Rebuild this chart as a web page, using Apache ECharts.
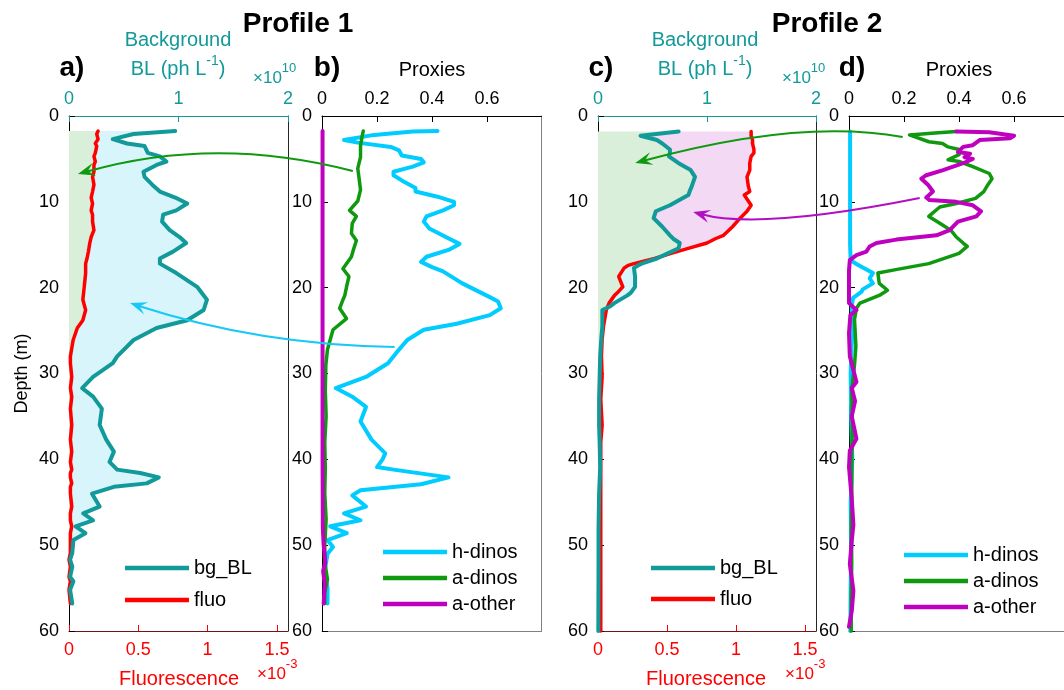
<!DOCTYPE html>
<html>
<head>
<meta charset="utf-8">
<script src="https://cdn.jsdelivr.net/npm/echarts@6/dist/echarts.min.js"></script>
<style>
  html, body { margin: 0; padding: 0; background: #fff; }
  #chart { width: 1064px; height: 690px; }
</style>
</head>
<body>
<div id="chart"></div>
<script>
// ---------- Profile 1: background BL (x1e10 ph/L) and fluorescence (x1e-3), shared depth grid (m)
const depth1 = [1.75, 2.1, 2.7, 3.2, 3.5, 4.3, 4.7, 5.3, 5.7, 6.5, 7.1, 8.0, 8.8, 9.5, 10.2, 11.0, 11.5, 12.3, 13.3, 14.1,
  14.8, 15.8, 16.6, 17.2, 18.3, 19.9, 21.4, 22.6, 23.8, 24.7, 26.1, 28.0, 28.8, 30.4, 31.7, 32.7, 34.1, 36.0, 37.7, 39.1,
  40.3, 41.2, 41.6, 42.1, 42.8, 43.2, 44.0, 45.5, 46.3, 47.1, 47.8, 48.6, 49.4, 50.9, 51.7, 52.5, 53.7, 54.2, 55.2, 56.8];
const bgBL1 = [0.97, 0.59, 0.40, 0.53, 0.69, 0.72, 0.83, 0.89, 0.80, 0.68, 0.69, 0.76, 0.83, 0.97, 1.08, 0.98, 0.86, 0.85, 0.92, 1.01,
  1.07, 0.95, 0.83, 0.83, 0.98, 1.17, 1.26, 1.23, 1.08, 0.80, 0.59, 0.44, 0.40, 0.22, 0.12, 0.22, 0.30, 0.28, 0.34, 0.41,
  0.37, 0.44, 0.65, 0.82, 0.71, 0.41, 0.21, 0.28, 0.13, 0.22, 0.06, 0.15, 0.04, 0.03, 0.01, 0.03, 0.01, 0.04, 0.01, 0.03];
const fluo1 = [0.21, 0.20, 0.21, 0.19, 0.20, 0.19, 0.18, 0.19, 0.18, 0.18, 0.17, 0.18, 0.17, 0.16, 0.17, 0.16, 0.17, 0.17, 0.18, 0.16,
  0.15, 0.14, 0.13, 0.12, 0.12, 0.11, 0.10, 0.12, 0.10, 0.06, 0.03, 0.01, 0.01, 0.02, 0.01, 0.02, 0.01, 0.02, 0.01, 0.02,
  0.01, 0.02, 0.01, 0.01, 0.02, 0.01, 0.01, 0.02, 0.01, 0.01, 0.02, 0.01, 0.01, 0.01, 0.00, 0.01, 0.00, 0.01, 0.00, 0.01];

// ---------- Profile 1: proxy fractions
const hDinosDepth1 = [1.75, 1.8, 2.2, 2.8, 3.1, 3.6, 4.0, 4.6, 5.0, 5.4, 5.9, 6.5, 6.9, 7.7, 8.4, 8.8, 9.4, 10.0, 10.4, 11.0,
  11.7, 12.3, 13.1, 14.1, 14.9, 15.6, 16.4, 17.0, 17.6, 18.1, 19.5, 21.1, 21.6, 22.4, 23.2, 24.2, 24.9, 26.1, 27.6, 28.8,
  30.4, 31.7, 32.7, 33.9, 35.6, 37.7, 39.3, 40.0, 40.9, 41.2, 42.1, 42.9, 43.6, 44.2, 45.5, 46.3, 47.1, 47.8, 48.6, 49.4,
  50.2, 51.0, 53.0, 55.0, 56.8];
const hDinos1 = [0.42, 0.33, 0.19, 0.08, 0.13, 0.25, 0.28, 0.29, 0.36, 0.37, 0.33, 0.26, 0.26, 0.30, 0.34, 0.34, 0.42, 0.48, 0.48, 0.44,
  0.38, 0.37, 0.39, 0.45, 0.50, 0.46, 0.38, 0.36, 0.40, 0.44, 0.51, 0.61, 0.64, 0.65, 0.61, 0.49, 0.37, 0.31, 0.27, 0.24,
  0.16, 0.05, 0.11, 0.16, 0.14, 0.18, 0.23, 0.22, 0.20, 0.26, 0.46, 0.36, 0.14, 0.11, 0.16, 0.08, 0.14, 0.03, 0.09, 0.02,
  0.04, 0.02, 0.01, 0.02, 0.02];
const aDinosDepth1 = [1.75, 2.5, 3.5, 4.8, 6.1, 7.3, 8.6, 9.9, 11.0, 11.7, 12.5, 13.7, 14.5, 15.5, 16.4, 17.8, 18.7, 19.8, 20.9, 21.5,
  22.4, 23.6, 24.9, 27.2, 29.0, 32, 35, 38, 41, 44, 47, 50, 52, 54, 55.5, 56.8];
const aDinos1 = [0.15, 0.145, 0.14, 0.14, 0.13, 0.135, 0.14, 0.13, 0.10, 0.125, 0.11, 0.107, 0.125, 0.115, 0.107, 0.076, 0.098, 0.09, 0.083, 0.075,
  0.064, 0.089, 0.04, 0.02, 0.014, 0.012, 0.015, 0.01, 0.012, 0.01, 0.015, 0.01, 0.01, 0.02, 0.01, 0.01];
const aOtherDepth1 = [1.75, 10, 20, 30, 40, 48, 50, 52, 53, 54.5, 56.8];
const aOther1 = [0.002, 0.002, 0.002, 0.002, 0.002, 0.003, 0.006, 0.012, 0.004, 0.01, 0.006];

// ---------- Profile 2: background BL (x1e10 ph/L) and fluorescence (x1e-3), shared depth grid (m)
const depth2 = [1.8, 2.3, 2.8, 3.2, 3.9, 4.3, 4.7, 5.5, 6.3, 7.1, 8.2, 8.8, 9.2, 9.4, 10.4, 11.1, 11.9, 12.1, 12.9, 13.9,
  14.3, 14.8, 15.4, 16.0, 16.6, 17.2, 17.4, 17.7, 17.9, 18.7, 19.9, 20.1, 20.6, 20.9, 21.8, 22.2, 22.6, 23.0, 24.5, 26,
  28, 30.4, 33, 36, 38, 40.9, 44, 48, 52, 56, 60];
const bgBL2 = [0.74, 0.39, 0.54, 0.59, 0.66, 0.66, 0.65, 0.74, 0.85, 0.89, 0.86, 0.84, 0.83, 0.80, 0.66, 0.53, 0.51, 0.52, 0.59, 0.66,
  0.69, 0.75, 0.74, 0.64, 0.54, 0.40, 0.37, 0.33, 0.33, 0.34, 0.34, 0.33, 0.30, 0.27, 0.15, 0.11, 0.04, 0.04, 0.04, 0.03,
  0.02, 0.015, 0.01, 0.01, 0.015, 0.02, 0.01, 0.005, 0.005, 0.004, 0.003];
const fluo2 = [1.11, 1.11, 1.12, 1.12, 1.13, 1.13, 1.11, 1.10, 1.10, 1.08, 1.09, 1.10, 1.06, 1.06, 1.11, 1.08, 1.03, 1.02, 0.975, 0.91,
  0.85, 0.79, 0.66, 0.53, 0.41, 0.26, 0.22, 0.19, 0.18, 0.15, 0.18, 0.17, 0.14, 0.12, 0.08, 0.07, 0.06, 0.056, 0.04, 0.03,
  0.025, 0.03, 0.02, 0.03, 0.02, 0.02, 0.02, 0.02, 0.02, 0.02, 0.02];

// ---------- Profile 2: proxy fractions
const hDinosDepth2 = [1.8, 5, 10, 15, 16.8, 17.3, 18.3, 18.9, 19.5, 20.2, 20.5, 21.2, 22.0, 25, 30, 35, 40, 45, 50, 55, 60];
const hDinos2 = [0.004, 0.004, 0.004, 0.004, 0.006, 0.03, 0.087, 0.075, 0.087, 0.05, 0.045, 0.015, 0.01, 0.012, 0.006, 0.008, 0.012, 0.006, 0.008, 0.006, 0.005];
const aDinosDepth2 = [1.8, 2.0, 2.2, 2.4, 3.0, 3.2, 3.6, 3.9, 4.5, 5.1, 5.3, 5.9, 6.7, 7.3, 8.0, 8.8, 9.6, 10.2, 10.6, 11.7,
  12.3, 13.3, 14.1, 14.8, 15.2, 16.0, 17.2, 17.9, 18.3, 19.5, 20.3, 20.9, 21.8, 22.4, 23.7, 26.8, 29, 32, 36, 40,
  44, 48, 52, 56, 60];
const aDinos2 = [0.39, 0.30, 0.22, 0.215, 0.29, 0.34, 0.36, 0.40, 0.40, 0.36, 0.40, 0.45, 0.51, 0.52, 0.505, 0.49, 0.46, 0.39, 0.33, 0.29,
  0.32, 0.37, 0.39, 0.415, 0.43, 0.40, 0.29, 0.17, 0.105, 0.11, 0.14, 0.11, 0.04, 0.027, 0.02, 0.025, 0.02, 0.01, 0.012, 0.01,
  0.01, 0.008, 0.01, 0.008, 0.008];
const aOtherDepth2 = [1.8, 1.9, 2.3, 2.6, 2.8, 3.4, 3.6, 4.2, 4.4, 4.8, 5.0, 5.5, 6.3, 6.9, 7.3, 8.0, 8.8, 9.5, 9.8, 10.0,
  10.4, 11.1, 11.7, 12.3, 13.3, 13.9, 14.4, 14.8, 15.2, 15.8, 16.2, 16.8, 18, 21.8, 22.6, 23.2, 25.3, 28.0, 31, 31.7,
  33.2, 35.0, 37.6, 39, 40.9, 44.6, 47.6, 49.5, 52.2, 55.3, 57.7, 59.5];
const aOther2 = [0.39, 0.51, 0.60, 0.585, 0.475, 0.45, 0.415, 0.396, 0.44, 0.42, 0.45, 0.415, 0.342, 0.281, 0.263, 0.287, 0.305, 0.281, 0.293, 0.39,
  0.45, 0.48, 0.463, 0.396, 0.366, 0.318, 0.172, 0.10, 0.075, 0.063, 0.027, 0.003, 0.0, 0.0, 0.027, 0.005, 0.0, 0.003, 0.027, 0.01,
  0.022, 0.01, 0.027, 0.003, 0.0, 0.01, 0.016, 0.01, 0.003, 0.016, 0.01, 0.0];

// ---------- axis limits
const DEPTH_MAX = 60;
const BL_MAX = 2;        // x1e10
const FLUO_MAX = 1.58;   // x1e-3
const PROXY_MAX = 0.798;

// ---------- styling
const FONT = '"Liberation Sans", Arial, Helvetica, sans-serif';
const TEAL = '#129a9a';
const RED = '#ff0000';
const CYAN = '#00ccff';
const GREEN = '#0f990f';
const MAGENTA = '#bf00bf';
const FILL_GREEN = '#d9efd9';
const FILL_CYAN = '#d8f5fc';
const FILL_PINK = '#f4d9f4';
const BOX_DARK = '#262626';
const BOX_GRAY = '#808080';

const pairs = (vals, depths) => vals.map((v, i) => [v, depths[i]]);
const multipleOf = (v, step) => Math.abs(v / step - Math.round(v / step)) < 1e-6;

const grids = [
  { left: 69, top: 116, width: 219, height: 515 },
  { left: 322, top: 116, width: 219.5, height: 515 },
  { left: 598, top: 116, width: 218, height: 515 },
  { left: 849, top: 116, width: 219.5, height: 515 }
].map(g => Object.assign({ outerBoundsMode: 'none', containLabel: false }, g));

function depthAxis(g, withName) {
  return {
    gridIndex: g, type: 'value', inverse: true, min: 0, max: DEPTH_MAX, interval: 10, position: 'left',
    axisLine: { show: true, onZero: false, lineStyle: { color: '#000', width: 1 } },
    axisTick: { show: true, inside: true, length: 6, lineStyle: { color: '#000' } },
    axisLabel: { color: '#000', fontSize: 18, fontFamily: FONT, margin: 10 },
    splitLine: { show: false },
    name: withName ? 'Depth (m)' : '', nameLocation: 'middle', nameRotate: 90, nameGap: 38,
    nameTextStyle: { color: '#000', fontSize: 18, fontFamily: FONT }
  };
}
function boxYAxis(g, color) {
  return {
    gridIndex: g, type: 'value', inverse: true, min: 0, max: DEPTH_MAX, position: 'right',
    axisLine: { show: true, onZero: false, lineStyle: { color, width: 1 } },
    axisTick: { show: false }, axisLabel: { show: false }, splitLine: { show: false }
  };
}
function blAxis(g) {
  return {
    gridIndex: g, type: 'value', position: 'top', min: 0, max: BL_MAX, interval: 1,
    axisLine: { show: true, onZero: false, lineStyle: { color: TEAL, width: 1 } },
    axisTick: { show: true, inside: true, length: 6, lineStyle: { color: TEAL } },
    axisLabel: { color: TEAL, fontSize: 18, fontFamily: FONT, margin: 8 },
    splitLine: { show: false }
  };
}
function fluoAxis(g) {
  return {
    gridIndex: g, type: 'value', position: 'bottom', min: 0, max: FLUO_MAX, interval: 0.5,
    axisLine: { show: true, onZero: false, lineStyle: { color: '#7a1010', width: 1 } },
    axisTick: { show: true, inside: true, length: 6, lineStyle: { color: RED } },
    axisLabel: { color: RED, fontSize: 18, fontFamily: FONT, margin: 10, showMaxLabel: false,
      formatter: v => multipleOf(v, 0.5) ? String(v) : '' },
    splitLine: { show: false }
  };
}
function proxyAxis(g) {
  return {
    gridIndex: g, type: 'value', position: 'top', min: 0, max: PROXY_MAX, interval: 0.2,
    axisLine: { show: true, onZero: false, lineStyle: { color: '#000', width: 1 } },
    axisTick: { show: true, inside: true, length: 6, lineStyle: { color: '#000' } },
    axisLabel: { color: '#000', fontSize: 18, fontFamily: FONT, margin: 8, showMaxLabel: false,
      formatter: v => multipleOf(v, 0.2) ? String(v) : '' },
    splitLine: { show: false }
  };
}
function boxXAxis(g, color) {
  return {
    gridIndex: g, type: 'value', position: 'bottom', min: 0, max: 1,
    axisLine: { show: true, onZero: false, lineStyle: { color, width: 1 } },
    axisTick: { show: false }, axisLabel: { show: false }, splitLine: { show: false }
  };
}

// x axes: 0 BL(a) 1 fluo(a) 2 proxies(b) 3 box(b) 4 BL(c) 5 fluo(c) 6 proxies(d) 7 box(d)
const xAxes = [blAxis(0), fluoAxis(0), proxyAxis(1), boxXAxis(1, BOX_GRAY), blAxis(2), fluoAxis(2), proxyAxis(3), boxXAxis(3, BOX_GRAY)];
// y axes: even = depth (left), odd = right-hand box edge
const yAxes = [depthAxis(0, true), boxYAxis(0, BOX_DARK), depthAxis(1, false), boxYAxis(1, BOX_GRAY),
  depthAxis(2, false), boxYAxis(2, BOX_DARK), depthAxis(3, false), boxYAxis(3, BOX_GRAY)];

// Shaded bands: 0..min(BL, fluo) green, fluo..BL cyan where BL is higher, BL..fluo pink where fluo is higher.
function bandSeries(xAxisIndex, yAxisIndex, depths, bg, fluo) {
  const k = BL_MAX / FLUO_MAX;
  return {
    type: 'custom', xAxisIndex, yAxisIndex, data: [[0, 0]], silent: true, z: 1, clip: true,
    renderItem: (params, api) => {
      const f = fluo.map(v => v * k);
      const lo = bg.map((b, i) => Math.min(b, f[i]));
      const hi = bg.map((b, i) => Math.max(b, f[i]));
      const trace = xs => xs.map((x, i) => api.coord([x, depths[i]]));
      const band = (a, b, color) => ({
        type: 'polygon',
        shape: { points: trace(a).concat(trace(b).reverse()) },
        style: { fill: color, stroke: null }
      });
      return {
        type: 'group',
        children: [
          band(depths.map(() => 0), lo, FILL_GREEN),
          band(f, hi, FILL_CYAN),
          band(bg, hi, FILL_PINK)
        ]
      };
    }
  };
}

function lineSeries(name, color, width, xAxisIndex, yAxisIndex, data) {
  return {
    name, type: 'line', xAxisIndex, yAxisIndex, data, color,
    showSymbol: false, symbol: 'none', clip: false, z: 3,
    lineStyle: { color, width, join: 'round', cap: 'round' },
    itemStyle: { color },
    emphasis: { disabled: true }
  };
}

const series = [
  bandSeries(0, 0, depth1, bgBL1, fluo1),
  lineSeries('fluo', RED, 3.5, 1, 0, pairs(fluo1, depth1)),
  lineSeries('bg_BL', TEAL, 4, 0, 0, pairs(bgBL1, depth1)),

  lineSeries('h-dinos', CYAN, 4, 2, 2, pairs(hDinos1, hDinosDepth1)),
  lineSeries('a-dinos', GREEN, 3.5, 2, 2, pairs(aDinos1, aDinosDepth1)),
  lineSeries('a-other', MAGENTA, 4, 2, 2, pairs(aOther1, aOtherDepth1)),

  bandSeries(4, 4, depth2, bgBL2, fluo2),
  lineSeries('fluo', RED, 3.5, 5, 4, pairs(fluo2, depth2)),
  lineSeries('bg_BL', TEAL, 4, 4, 4, pairs(bgBL2, depth2)),

  lineSeries('h-dinos', CYAN, 4, 6, 6, pairs(hDinos2, hDinosDepth2)),
  lineSeries('a-dinos', GREEN, 3.5, 6, 6, pairs(aDinos2, aDinosDepth2)),
  lineSeries('a-other', MAGENTA, 4, 6, 6, pairs(aOther2, aOtherDepth2))
];

function legendBox(names, left, top, lineHeight, gap) {
  return {
    data: names, left, top, orient: 'vertical', icon: 'rect', itemWidth: 64, itemHeight: 4.5,
    itemGap: gap, padding: 0, selectedMode: false,
    textStyle: { color: '#000', fontSize: 20, fontFamily: FONT, lineHeight }
  };
}

const chart = echarts.init(document.getElementById('chart'), null, { renderer: 'canvas' });
chart.setOption({
  animation: false,
  backgroundColor: '#fff',
  textStyle: { fontFamily: FONT },
  grid: grids,
  xAxis: xAxes,
  yAxis: yAxes,
  legend: [
    legendBox(['bg_BL', 'fluo'], 125, 556, 24, 8),
    legendBox(['h-dinos', 'a-dinos', 'a-other'], 383, 542, 20, 6),
    legendBox(['bg_BL', 'fluo'], 651, 556, 24, 7),
    legendBox(['h-dinos', 'a-dinos', 'a-other'], 904, 545, 20, 6)
  ],
  series
});

// ---------- annotations (titles, axis captions, arrows)
const topX = [0, 2, 4, 6];
const px = (g, x, d) => chart.convertToPixel({ xAxisIndex: topX[g], yAxisIndex: 2 * g }, [x, d]);

function label(text, x, y, opts) {
  return {
    type: 'text', x, y, silent: true, z: 20,
    style: Object.assign({ text, fill: '#000', fontSize: 18, fontFamily: FONT, align: 'center', verticalAlign: 'middle' }, opts)
  };
}
// text followed by a raised superscript; `parts` = [[text, isSup], ...]
function supText(parts, x, y, color, size, supSize, align) {
  return {
    type: 'text', x, y, silent: true, z: 20,
    style: {
      text: parts.map(([t, sup]) => '{' + (sup ? 's' : 'b') + '|' + t + '}').join(''),
      fill: color, fontFamily: FONT, align, verticalAlign: 'middle',
      rich: {
        b: { fill: color, fontSize: size, fontFamily: FONT, lineHeight: 25, verticalAlign: 'bottom' },
        s: { fill: color, fontSize: supSize, fontFamily: FONT, lineHeight: supSize, verticalAlign: 'top' }
      }
    }
  };
}

function arrow(color, from, ctrl, to, width) {
  const p0 = px(...from), c = px(...ctrl), p1 = px(...to);
  const dx = p1[0] - c[0], dy = p1[1] - c[1];
  const len = Math.hypot(dx, dy) || 1;
  const ux = dx / len, uy = dy / len, nx = -uy, ny = ux;
  const L = 17, W = 6.5;
  const head = [
    p1,
    [p1[0] - ux * L + nx * W, p1[1] - uy * L + ny * W],
    [p1[0] - ux * L * 0.6, p1[1] - uy * L * 0.6],
    [p1[0] - ux * L - nx * W, p1[1] - uy * L - ny * W]
  ];
  return [
    { type: 'bezierCurve', silent: true, z: 15,
      shape: { x1: p0[0], y1: p0[1], cpx1: c[0], cpy1: c[1], x2: p1[0] - ux * L * 0.5, y2: p1[1] - uy * L * 0.5 },
      style: { stroke: color, lineWidth: width, fill: null } },
    { type: 'polygon', silent: true, z: 15, shape: { points: head }, style: { fill: color, stroke: null } }
  ];
}

const graphics = [
  label('Profile 1', 298, 24, { fontSize: 28, fontWeight: 'bold' }),
  label('Profile 2', 827, 24, { fontSize: 28, fontWeight: 'bold' }),
  label('a)', 72, 68, { fontSize: 28, fontWeight: 'bold' }),
  label('b)', 327, 68, { fontSize: 28, fontWeight: 'bold' }),
  label('c)', 601, 68, { fontSize: 28, fontWeight: 'bold' }),
  label('d)', 852, 68, { fontSize: 28, fontWeight: 'bold' }),

  label('Background', 178, 40, { fontSize: 20, fill: TEAL }),
  supText([['BL (ph L', false], ['-1', true], [')', false]], 178, 67, TEAL, 20, 14, 'center'),
  supText([['\u00d710', false], ['10', true]], 253, 74, TEAL, 17, 13, 'left'),
  label('Background', 705, 40, { fontSize: 20, fill: TEAL }),
  supText([['BL (ph L', false], ['-1', true], [')', false]], 705, 67, TEAL, 20, 14, 'center'),
  supText([['\u00d710', false], ['10', true]], 782, 74, TEAL, 17, 13, 'left'),

  label('Proxies', 432, 70, { fontSize: 20 }),
  label('Proxies', 959, 70, { fontSize: 20 }),

  label('Fluorescence', 179, 679, { fontSize: 20, fill: RED }),
  supText([['\u00d710', false], ['-3', true]], 257, 670, RED, 17, 13, 'left'),
  label('Fluorescence', 706, 679, { fontSize: 20, fill: RED }),
  supText([['\u00d710', false], ['-3', true]], 785, 670, RED, 17, 13, 'left')
];

// arrows: [grid, x value, depth] for start, control and end points
graphics.push(...arrow(GREEN, [1, 0.112, 6.4], [0, 1.333, 2.21], [0, 0.082, 6.76], 2));
graphics.push(...arrow('#19c8f5', [1, 0.264, 26.9], [0, 1.744, 26.7], [0, 0.557, 21.8], 2));
graphics.push(...arrow(GREEN, [3, 0.195, 2.45], [2, 1.853, 0.23], [2, 0.342, 5.48], 2));
graphics.push(...arrow('#b010c0', [3, 0.257, 9.55], [2, 1.486, 13.28], [2, 0.873, 11.18], 2));

chart.setOption({ graphic: graphics });
</script>
</body>
</html>
